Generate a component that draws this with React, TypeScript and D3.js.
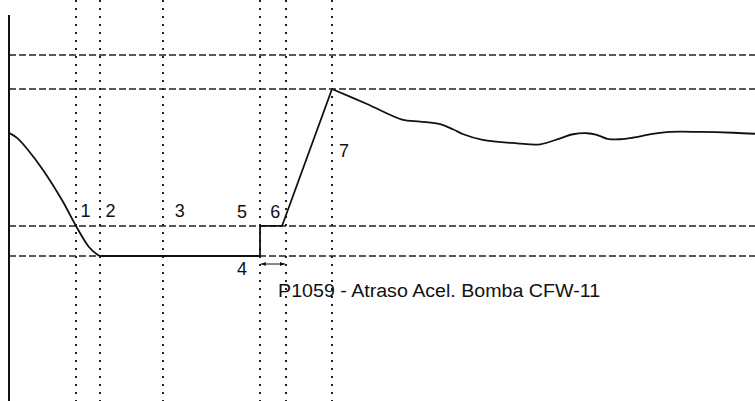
import React from "react";
import * as d3 from "d3";

const W = 755;
const H = 401;

// Time (x, 0..100) and level (y, % of reference)
const descentX = [0, 1.07, 2.55, 4.56, 7.1, 8.98, 10.72, 11.93, 12.2];
const descentY = [73.7, 70.7, 63.5, 51.5, 33.5, 18.0, 5.4, 0.6, 0];

const rampX = [12.2, 33.65, 33.65, 36.6, 43.3];
const rampY = [0, 0, 18, 18, 100];

const settleX = [43.3, 48.0, 52.68, 55.1, 57.8, 59.5, 60.9, 63.5, 68.1, 71.2, 73.9, 75.6, 77.5, 78.8, 80.2, 81.9, 83.6, 86.3, 88.6, 92.6, 97.1, 100];
const settleY = [100, 91.0, 81.7, 80.5, 78.9, 75.9, 72.9, 69.5, 67.5, 66.9, 70.5, 72.9, 73.5, 72.5, 70.2, 69.9, 70.8, 73.1, 74.3, 74.3, 73.8, 73.2];

const levels = [120.4, 100, 18, 0];
const markers = [8.98, 12.2, 20.64, 33.65, 37.13, 43.3];

const phaseLabels = ["1", "2", "3", "5", "6", "4", "7"];
const phaseX = [10.25, 13.6, 22.9, 31.25, 35.7, 31.25, 44.9];
const phaseY = [23.4, 23.4, 23.4, 22.8, 22.8, -11.4, 59.3];

const title = "P1059 - Atraso Acel. Bomba CFW-11";
const titleX = 36.07;
const titleY = -24.6;

const arrowX = [33.75, 37.0];
const arrowLevel = -4.8;
const axisTop = 144.3;

export default function App() {
  const x = d3.scaleLinear().domain([0, 100]).range([9, 755]);
  const y = d3.scaleLinear().domain([0, 100]).range([256, 89]);

  const smooth = d3
    .line<number>()
    .x((d) => x(d))
    .curve(d3.curveCatmullRom.alpha(0.5));

  const descentPts: [number, number][] = descentX.map((v, i) => [x(v), y(descentY[i])]);
  const rampPts: [number, number][] = rampX.map((v, i) => [x(v), y(rampY[i])]);
  const settlePts: [number, number][] = settleX.map((v, i) => [x(v), y(settleY[i])]);

  const curveGen = d3.line().curve(d3.curveCatmullRom.alpha(0.5));
  const linGen = d3.line();

  const ay = y(arrowLevel);
  const ax0 = x(arrowX[0]);
  const ax1 = x(arrowX[1]);
  void smooth;

  return (
    <svg
      width={W}
      height={H}
      style={{ position: "absolute", left: 0, top: 0, background: "#fff" }}
      fontFamily="'Liberation Sans', Arial, sans-serif"
    >
      <rect width={W} height={H} fill="#fff" />
      {markers.map((m, i) => (
        <line
          key={"v" + i}
          x1={x(m)}
          x2={x(m)}
          y1={0}
          y2={H}
          stroke="#222"
          strokeWidth={2}
          strokeDasharray="2 6"
        />
      ))}
      {levels.map((l, i) => (
        <line
          key={"h" + i}
          x1={x(0)}
          x2={W}
          y1={y(l)}
          y2={y(l)}
          stroke="#222"
          strokeWidth={1.6}
          strokeDasharray="7 3"
        />
      ))}
      <line x1={x(0)} x2={x(0)} y1={y(axisTop)} y2={H} stroke="#111" strokeWidth={2} />
      <path d={curveGen(descentPts) || ""} fill="none" stroke="#111" strokeWidth={1.8} />
      <path d={linGen(rampPts) || ""} fill="none" stroke="#111" strokeWidth={1.8} />
      <path d={curveGen(settlePts) || ""} fill="none" stroke="#111" strokeWidth={1.8} />
      <defs>
        <marker id="ah" viewBox="0 0 10 10" refX="10" refY="5" markerWidth="5" markerHeight="5" orient="auto-start-reverse">
          <path d="M0,1 L10,5 L0,9 z" fill="#111" />
        </marker>
      </defs>
      <line
        x1={ax0}
        x2={ax1}
        y1={ay}
        y2={ay}
        stroke="#111"
        strokeWidth={1}
        markerStart="url(#ah)"
        markerEnd="url(#ah)"
      />
      {phaseLabels.map((t, i) => (
        <text key={"p" + i} x={x(phaseX[i])} y={y(phaseY[i])} fontSize={18} textAnchor="middle" fill="#111">
          {t}
        </text>
      ))}
      <text x={x(titleX)} y={y(titleY)} fontSize={18} fill="#111" textLength={322} lengthAdjust="spacingAndGlyphs">
        {title}
      </text>
    </svg>
  );
}
